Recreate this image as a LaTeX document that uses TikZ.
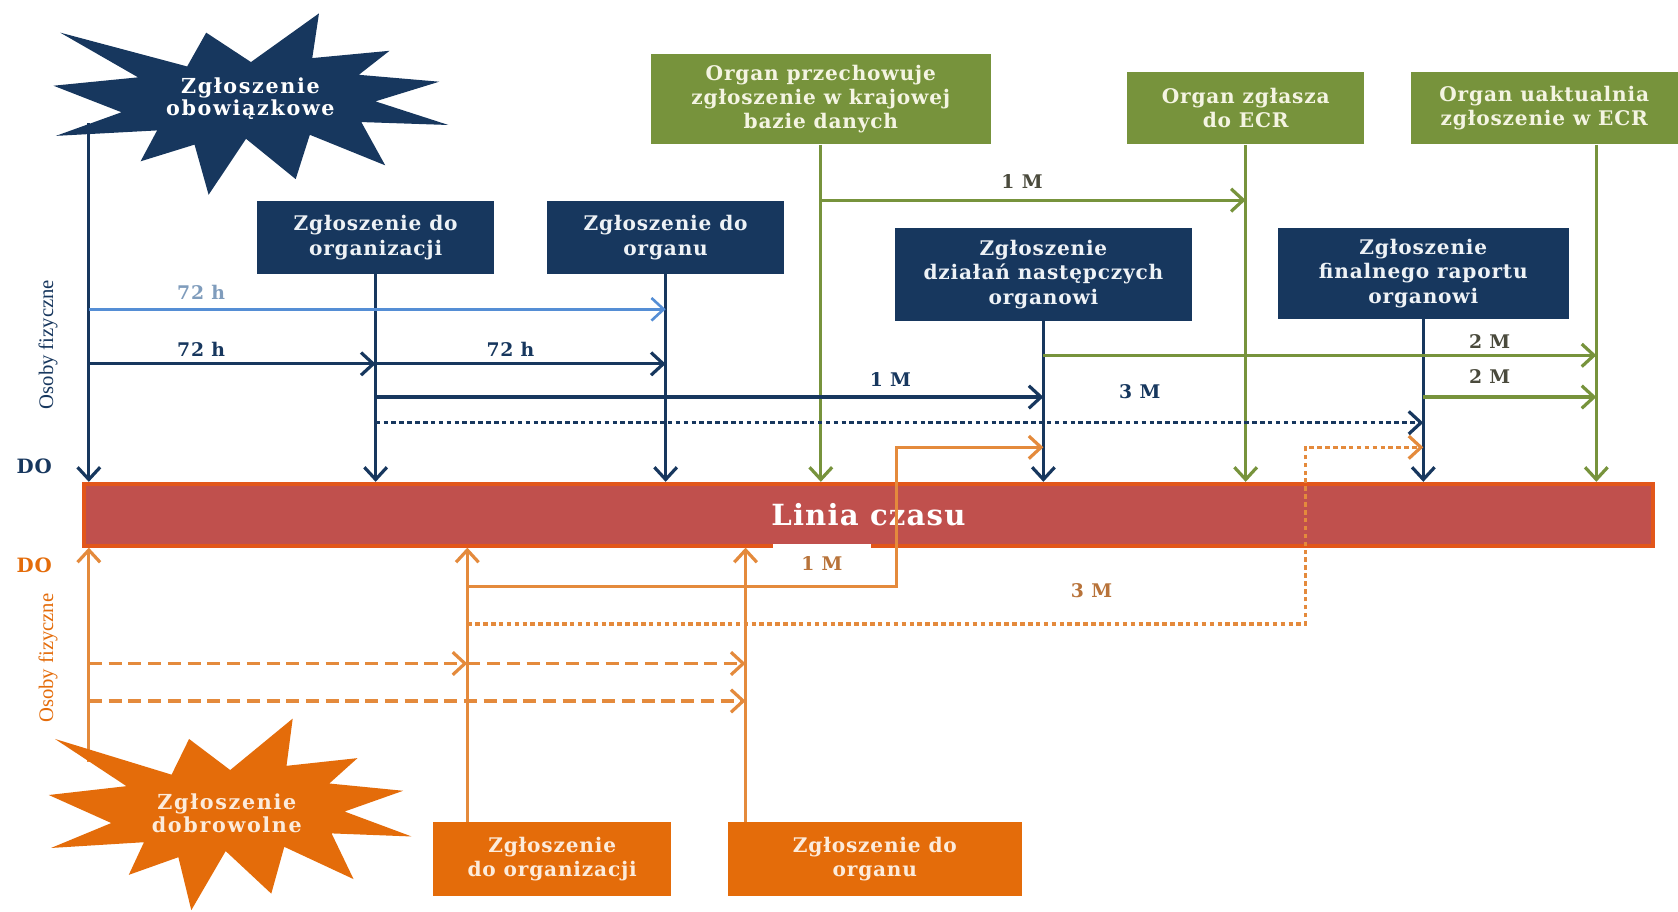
\documentclass[tikz,border=0pt]{standalone}
\usepackage{fontspec}
\setmainfont{Liberation Serif}
\newfontfamily\trk[LetterSpace=4]{DejaVu Serif}
\newfontfamily\trkw[LetterSpace=8]{DejaVu Serif}
\usetikzlibrary{arrows.meta,calc}
\definecolor{cNavy}{HTML}{17375E}
\definecolor{cLblue}{HTML}{558ED5}
\definecolor{cLbltxt}{HTML}{7F9CBC}
\definecolor{cGrn}{HTML}{77933C}
\definecolor{cOrgBox}{HTML}{E46C0A}
\definecolor{cOrgLn}{HTML}{E48A3C}
\definecolor{cBar}{HTML}{C0504D}
\definecolor{cBarLn}{HTML}{E2561A}
\definecolor{cGrayTxt}{HTML}{4A4A3C}
\definecolor{cOrgTxt}{HTML}{B8733A}
\definecolor{cNavyTxt}{HTML}{EEF2F6}
\definecolor{cGrnTxt}{HTML}{F4F4E2}
\definecolor{cOrgInTxt}{HTML}{FCEBDB}
\tikzset{explo/.pic={\path[pic actions] (0.5,0.2685) -- (0.6723,0) -- (0.6553,0.2465) -- (0.8509,0.2063) -- (0.7732,0.3387) -- (0.9767,0.3767) -- (0.8151,0.4850) -- (1,0.6153) -- (0.7795,0.5992) -- (0.8400,0.8377) -- (0.6491,0.6693) -- (0.6133,0.9137) -- (0.4876,0.6914) -- (0.3928,1) -- (0.3572,0.7235) -- (0.2205,0.8156) -- (0.2624,0.6452) -- (0.00625,0.6753) -- (0.1723,0.5451) -- (0,0.3988) -- (0.2142,0.3526) -- (0.0171,0.1063) -- (0.3385,0.2926) -- (0.3867,0.1063) -- cycle;}}
\begin{document}
\begin{tikzpicture}[x=0.02cm,y=-0.02cm,
  every node/.style={inner sep=0pt, align=center},
  boxtext/.style={font=\trk\bfseries\fontsize{10.7}{12.9}\selectfont},
  startext/.style={font=\trkw\bfseries\fontsize{11}{11.8}\selectfont},
  navybox/.style={boxtext, fill=cNavy, text=cNavyTxt},
  grnbox/.style={boxtext, fill=cGrn, text=cGrnTxt},
  orgbox/.style={boxtext, fill=cOrgBox, text=cOrgInTxt},
  ln/.style={line width=1.7pt},
  arr/.style={-{Straight Barb[length=6.5pt,width=12pt]}},
  nv/.style={ln, draw=cNavy},
  gr/.style={ln, draw=cGrn},
  ol/.style={ln, draw=cOrgLn},
  lbl/.style={ln, draw=cLblue, line width=1.4pt},
  dotd/.style={dash pattern=on 2.4pt off 1.8pt},
  dshd/.style={dash pattern=on 7pt off 3.5pt},
  tlabel/.style={font=\trk\bfseries\fontsize{10}{12}\selectfont},
]
\useasboundingbox (0,0) rectangle (1568,852);
\fill[white] (0,0) rectangle (1568,852);

% rows and bend columns
\coordinate (r1) at (0,289);
\coordinate (r2) at (0,340);
\coordinate (r3) at (0,371);
\coordinate (r4) at (0,395);
\coordinate (r5) at (0,187);
\coordinate (r6) at (0,332);
\coordinate (r7) at (0,418);
\coordinate (r8) at (0,548);
\coordinate (r9) at (0,583);
\coordinate (r10) at (0,620);
\coordinate (r11) at (0,655);
\coordinate (k1) at (838,0);
\coordinate (k2) at (1220,0);
\coordinate (nStart) at (83,115);
\coordinate (oStart) at (83,712);

% timeline bar
\node[fill=cBar, draw=cBarLn, line width=2pt, minimum width=29.34cm, minimum height=1.16cm,
      text=white, font=\trk\bfseries\fontsize{15.5}{18}\selectfont] (bar) at (811.5,481) {Linia czasu};

% navy boxes
\node[navybox, minimum width=4.44cm, minimum height=1.36cm] (orgA) at (351,222) {Zgłoszenie do\\organizacji};
\node[navybox, minimum width=4.44cm, minimum height=1.36cm] (organA) at (622,222) {Zgłoszenie do\\organu};
\node[navybox, minimum width=5.56cm, minimum height=1.74cm] (dzial) at (975,256.5) {Zgłoszenie\\działań następczych\\organowi};
\node[navybox, minimum width=5.44cm, minimum height=1.70cm] (final) at (1330,255.5) {Zgłoszenie\\finalnego raportu\\organowi};

% green boxes
\node[grnbox, minimum width=6.36cm, minimum height=1.70cm] (przech) at (767,92.5) {Organ przechowuje\\zgłoszenie w krajowej\\bazie danych};
\node[grnbox, minimum width=4.42cm, minimum height=1.36cm] (ecr) at (1164,101) {Organ zgłasza\\do ECR};
\node[grnbox, minimum width=5.00cm, minimum height=1.36cm] (uakt) at (1443,101) {Organ uaktualnia\\zgłoszenie w ECR};

% orange boxes
\node[orgbox, minimum width=4.44cm, minimum height=1.38cm] (orgB) at (516,802.5) {Zgłoszenie\\do organizacji};
\node[orgbox, minimum width=5.50cm, minimum height=1.38cm] (organB) at (817.5,802.5) {Zgłoszenie do\\organu};

\coordinate (gU) at ($(uakt.south west)+(174,0)$);
\coordinate (oB1) at ($(orgB.north west)+(32,0)$);
\coordinate (oB2) at ($(organB.north west)+(17,0)$);

% vertical navy
\draw[nv,arr] (nStart) -- (nStart |- bar.north);
\draw[nv,arr] (orgA.south) -- (orgA.south |- bar.north);
\draw[nv,arr] (organA.south) -- (organA.south |- bar.north);
\draw[nv,arr] (dzial.south) -- (dzial.south |- bar.north);
\draw[nv,arr] (final.south) -- (final.south |- bar.north);
% vertical green
\draw[gr,arr] (przech.south) -- (przech.south |- bar.north);
\draw[gr,arr] (ecr.south) -- (ecr.south |- bar.north);
\draw[gr,arr] (gU) -- (gU |- bar.north);
% vertical orange
\draw[ol,arr] (oStart) -- (oStart |- bar.south);
\draw[ol,arr] (oB1) -- (oB1 |- bar.south);
\draw[ol,arr] (oB2) -- (oB2 |- bar.south);

% horizontal navy
\draw[lbl,arr] (nStart |- r1) -- (organA.south |- r1);
\draw[nv,arr] (nStart |- r2) -- (orgA.south |- r2);
\draw[nv,arr] (orgA.south |- r2) -- (organA.south |- r2);
\draw[nv,arr] (orgA.south |- r3) -- (dzial.south |- r3);
\draw[nv,dotd,arr] (orgA.south |- r4) -- (final.south |- r4);
% horizontal green
\draw[gr,arr] (przech.south |- r5) -- (ecr.south |- r5);
\draw[gr,arr] (dzial.south |- r6) -- (gU |- r6);
\draw[gr,arr] (final.south |- r3) -- (gU |- r3);
% orange
\draw[ol,arr] (oB1 |- r8) -- (k1 |- r8) -- (k1 |- r7) -- (dzial.south |- r7);
\draw[ol,dotd,arr] (oB1 |- r9) -- (k2 |- r9) -- (k2 |- r7) -- (final.south |- r7);
\draw[ol,dshd,arr] (oStart |- r10) -- (oB1 |- r10);
\draw[ol,dshd,arr] (oB1 |- r10) -- (oB2 |- r10);
\draw[ol,dshd,arr] (oStart |- r11) -- (oB2 |- r11);

% stars
\pic[fill=cNavy, xscale=369, yscale=169.5] at (50,12.5) {explo};
\pic[fill=cOrgBox, xscale=339, yscale=179] at (45.6,671.5) {explo};
\node[startext, text=white] (starN) at (234,92) {Zgłoszenie\\obowiązkowe};
\node[startext, text=cOrgInTxt] (starO) at (212,760) {Zgłoszenie\\dobrowolne};

% labels
\node[tlabel, text=cLbltxt] (t1) at (188,273) {72 h};
\node[tlabel, text=cNavy] (t2) at (188,326) {72 h};
\node[tlabel, text=cNavy] (t3) at (477,326) {72 h};
\node[tlabel, text=cNavy] (t4) at (832,355) {1 M};
\node[tlabel, text=cNavy] (t5) at (1065,366) {3 M};
\node[tlabel, text=cGrayTxt] (t6) at (955,170) {1 M};
\node[tlabel, text=cGrayTxt] (t7) at (1392,319) {2 M};
\node[tlabel, text=cGrayTxt] (t8) at (1392,352) {2 M};
\node[tlabel, text=cOrgTxt, fill=white, minimum width=1.84cm, minimum height=0.74cm] (t9) at (768,527) {1 M};
\node[tlabel, text=cOrgTxt] (t10) at (1020,552) {3 M};

\node[font=\trk\bfseries\fontsize{10.5}{12}\selectfont, text=cNavy] (doN) at (32,436) {DO};
\node[font=\trk\bfseries\fontsize{10.5}{12}\selectfont, text=cOrgBox] (doO) at (32,528) {DO};
\node[rotate=90, font=\fontsize{11}{12}\selectfont, text=cNavy] (osN) at (45,322) {Osoby fizyczne};
\node[rotate=90, font=\fontsize{11}{12}\selectfont, text=cOrgBox] (osO) at (45,615) {Osoby fizyczne};
\end{tikzpicture}
\end{document}
